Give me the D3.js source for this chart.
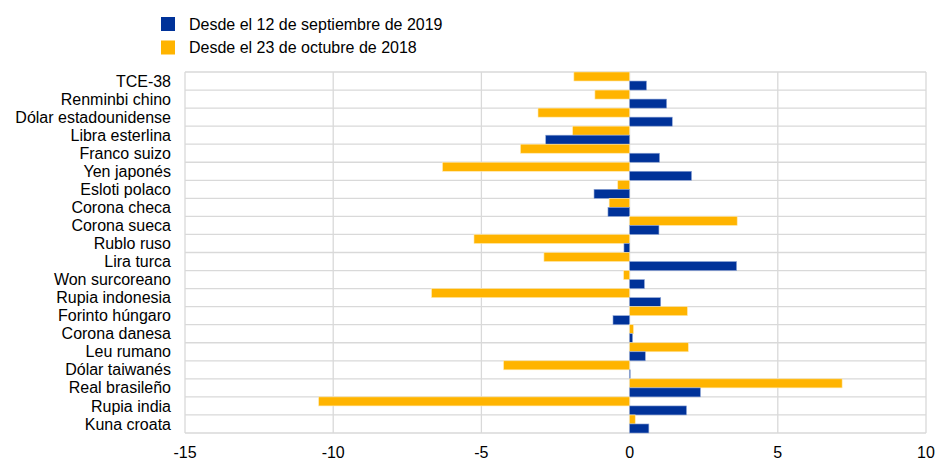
<!DOCTYPE html>
<html>
<head>
<meta charset="utf-8">
<script src="https://cdn.jsdelivr.net/npm/d3@7"></script>
<style>
  body { margin: 0; background: #fff; }
  text { font-family: "Liberation Sans", Arial, sans-serif; fill: #000; }
</style>
</head>
<body>
<svg id="chart"></svg>
<script>
// data
const categories = ["TCE-38", "Renminbi chino", "Dólar estadounidense", "Libra esterlina", "Franco suizo",
    "Yen japonés", "Esloti polaco", "Corona checa", "Corona sueca", "Rublo ruso", "Lira turca",
    "Won surcoreano", "Rupia indonesia", "Forinto húngaro", "Corona danesa", "Leu rumano",
    "Dólar taiwanés", "Real brasileño", "Rupia india", "Kuna croata"];
const since2019 = [0.57, 1.25, 1.44, -2.83, 1.01, 2.09, -1.20, -0.73, 0.99, -0.19, 3.61,
    0.50, 1.05, -0.56, 0.10, 0.53, 0.02, 2.39, 1.92, 0.65];
const since2018 = [-1.88, -1.17, -3.09, -1.92, -3.68, -6.31, -0.40, -0.69, 3.63, -5.25, -2.89,
    -0.20, -6.68, 1.95, 0.13, 1.98, -4.25, 7.17, -10.49, 0.19];
const seriesNames = ["Desde el 12 de septiembre de 2019", "Desde el 23 de octubre de 2018"];
const xTicks = [-15, -10, -5, 0, 5, 10];

const width = 936, height = 460;
const margin = { top: 72, right: 10, bottom: 27, left: 185 };
const blue = "#003299", yellow = "#FFB400", grid = "#d9d9d9";
const fontSize = 16;

const svg = d3.select("#chart").attr("width", width).attr("height", height);

const x = d3.scaleLinear().domain([-15, 10]).range([margin.left, 926]);
const y = d3.scaleBand().domain(categories).range([margin.top, height - margin.bottom]).padding(0);
const sub = d3.scaleBand().domain(["2018", "2019"]).range([0, y.bandwidth()]).padding(0);

// grid lines
svg.append("g").selectAll("line.v")
    .data(xTicks).enter().append("line")
    .attr("x1", d => x(d)).attr("x2", d => x(d))
    .attr("y1", margin.top).attr("y2", height - margin.bottom)
    .attr("stroke", grid).attr("stroke-width", 1.3);
svg.append("g").selectAll("line.h")
    .data(categories.concat(["end"])).enter().append("line")
    .attr("x1", x(-15)).attr("x2", x(10))
    .attr("y1", (d, i) => margin.top + i * y.step())
    .attr("y2", (d, i) => margin.top + i * y.step())
    .attr("stroke", grid).attr("stroke-width", 1.3);

// bars
const rows = svg.append("g").selectAll("g")
    .data(categories).enter().append("g")
    .attr("transform", d => "translate(0," + y(d) + ")");

rows.append("rect")
    .attr("x", (d, i) => x(Math.min(0, since2018[i])))
    .attr("y", sub("2018"))
    .attr("width", (d, i) => Math.abs(x(since2018[i]) - x(0)))
    .attr("height", sub.bandwidth())
    .attr("fill", yellow).attr("stroke", "#ffe9b0").attr("stroke-width", 0.6);

rows.append("rect")
    .attr("x", (d, i) => x(Math.min(0, since2019[i])))
    .attr("y", sub("2019"))
    .attr("width", (d, i) => Math.abs(x(since2019[i]) - x(0)))
    .attr("height", sub.bandwidth())
    .attr("fill", blue).attr("stroke", "#8fa6d6").attr("stroke-width", 0.6);

// category labels
svg.append("g").selectAll("text")
    .data(categories).enter().append("text")
    .attr("x", 171)
    .attr("y", d => y(d) + y.bandwidth() / 2)
    .attr("dy", "0.35em")
    .attr("text-anchor", "end")
    .attr("font-size", fontSize)
    .text(d => d);

// x axis labels
svg.append("g").selectAll("text")
    .data(xTicks).enter().append("text")
    .attr("x", d => x(d))
    .attr("y", 452)
    .attr("dy", "0.35em")
    .attr("text-anchor", "middle")
    .attr("font-size", fontSize)
    .text(d => d);

// legend
const legend = svg.append("g").selectAll("g")
    .data(seriesNames).enter().append("g")
    .attr("transform", (d, i) => "translate(161," + (17 + i * 23.5) + ")");
legend.append("rect")
    .attr("width", 14).attr("height", 14)
    .attr("fill", (d, i) => i === 0 ? blue : yellow);
legend.append("text")
    .attr("x", 28).attr("y", 7).attr("dy", "0.35em")
    .attr("font-size", fontSize)
    .text(d => d);
</script>
</body>
</html>
